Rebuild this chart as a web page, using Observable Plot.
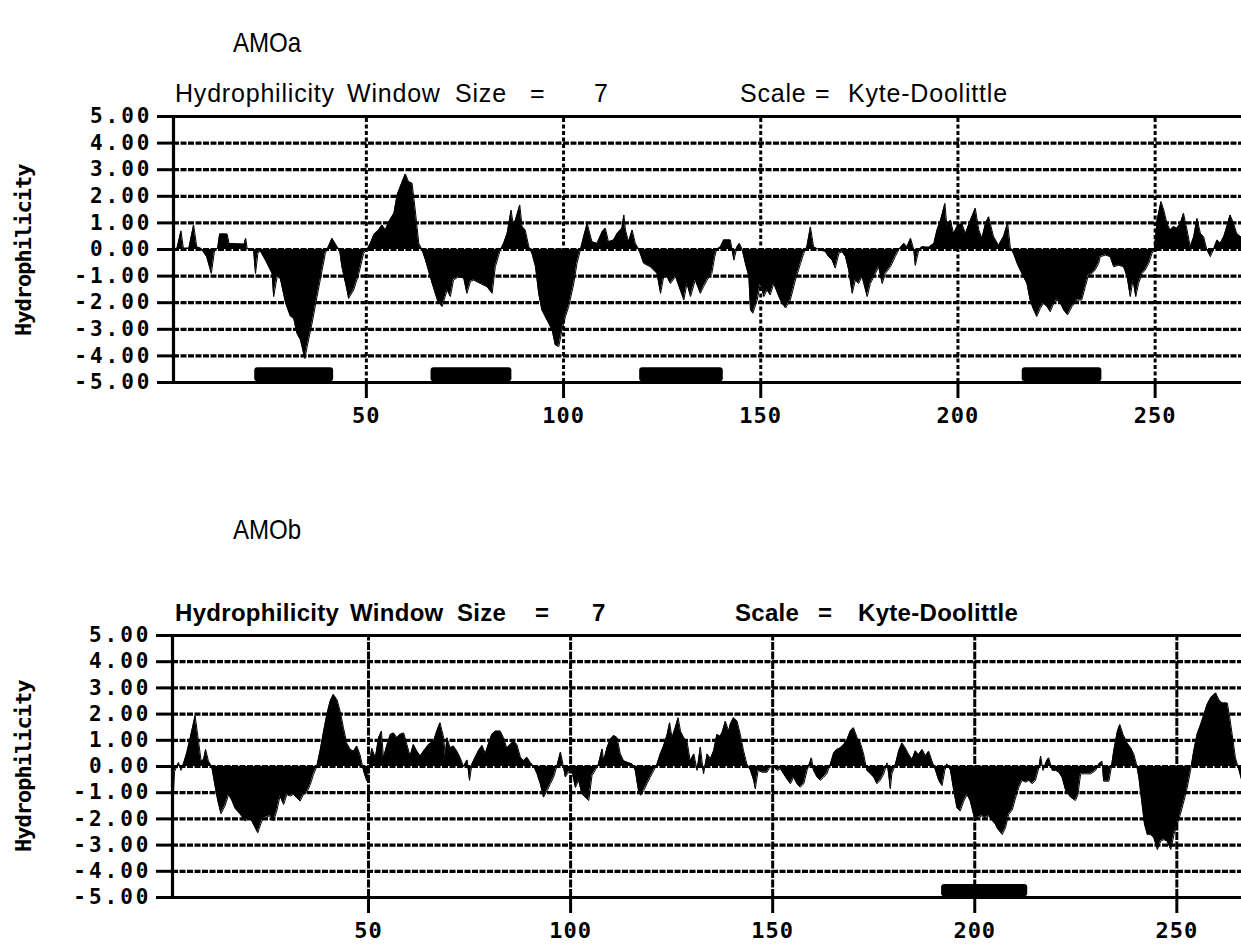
<!DOCTYPE html>
<html><head><meta charset="utf-8">
<script src="https://cdn.jsdelivr.net/npm/d3@7"></script>
<script src="https://cdn.jsdelivr.net/npm/@observablehq/plot@0.6"></script>
<style>
body{margin:0;background:#fff;width:1241px;height:945px;position:relative;overflow:hidden;font-family:"Liberation Sans",Arial,sans-serif;}
.abs{position:absolute;white-space:pre;color:#000;line-height:1;z-index:5;}
.title{font-size:28px;transform:scaleX(0.86);transform-origin:0 0;}
.hdr{font-size:25px;letter-spacing:0.8px;}
.hdrb{font-size:24px;font-weight:bold;letter-spacing:0.3px;}
.ylab{font-family:"DejaVu Sans Mono",monospace;font-weight:bold;font-size:22px;letter-spacing:-1px;transform:rotate(-90deg);transform-origin:0 0;}
#pa,#pb{position:absolute;left:0;z-index:1;}
#pa{top:60px;} #pb{top:580px;}
g[aria-label="y-axis tick label"] text{letter-spacing:3px;}
g[aria-label="x-axis tick label"] text{letter-spacing:1px;}
</style></head><body>
<div class="abs title" style="left:233px;top:29px;">AMOa</div>
<div class="abs hdr" style="left:175px;top:81px;">Hydrophilicity</div>
<div class="abs hdr" style="left:347px;top:81px;">Window</div>
<div class="abs hdr" style="left:455px;top:81px;">Size</div>
<div class="abs hdr" style="left:530px;top:81px;">=</div>
<div class="abs hdr" style="left:594px;top:81px;">7</div>
<div class="abs hdr" style="left:740px;top:81px;">Scale</div>
<div class="abs hdr" style="left:815px;top:81px;">=</div>
<div class="abs hdr" style="left:848px;top:81px;">Kyte-Doolittle</div>
<div class="abs ylab" style="left:13px;top:336px;">Hydrophilicity</div>
<div id="pa"></div>
<div class="abs title" style="left:233px;top:516px;">AMOb</div>
<div class="abs hdrb" style="left:175px;top:601px;">Hydrophilicity</div>
<div class="abs hdrb" style="left:350px;top:601px;">Window</div>
<div class="abs hdrb" style="left:457px;top:601px;">Size</div>
<div class="abs hdrb" style="left:535px;top:601px;">=</div>
<div class="abs hdrb" style="left:592px;top:601px;">7</div>
<div class="abs hdrb" style="left:735px;top:601px;">Scale</div>
<div class="abs hdrb" style="left:818px;top:601px;">=</div>
<div class="abs hdrb" style="left:858px;top:601px;">Kyte-Doolittle</div>
<div class="abs ylab" style="left:13px;top:852px;">Hydrophilicity</div>
<div id="pb"></div>
<script>
// ---- data ----
const xTicks = [50, 100, 150, 200, 250];
const yTicks = [-5, -4, -3, -2, -1, 0, 1, 2, 3, 4, 5];

const posA = [1,2,3,3.6,5,6.2,7,8,9.5,10.7,11.5,12.3,12.8,14.7,15.2,19,19.4,19.8,21.4,21.9,22.5,23.1,24.4,26.1,26.5,27.4,28.2,29.5,30.7,31.6,32.4,33.3,34.4,35,36.2,37.5,38.8,39.6,41.3,42.6,43.2,43.8,45.1,45.5,46.8,48.1,49.3,50.2,51,51.9,53.1,54,54.8,55.7,57,57.8,59.1,59.9,60.7,61.6,62.4,63.3,64.1,65,66.7,68,69.2,70.5,71.3,72.1,73.4,74.7,75.5,76.4,77.2,78.9,80.6,81.9,82.7,84,84.8,85.7,86.7,87.2,87.8,88.9,89.5,90.3,91.2,92,92.9,93.7,94.5,95.8,97.1,97.9,98.8,99.6,100.5,101.3,102.6,103.4,104.3,105.1,106,107.2,108.5,109.8,110.6,111.4,112.7,113.6,114.8,115.3,115.7,116.5,117.4,118.2,119.1,120.3,122,123.7,124.6,125.4,126.2,127.1,128.4,129.6,130.5,131.3,132.2,133.4,134.7,135.5,136.4,137.6,138.3,138.8,139.8,140.6,142.3,143.2,144,144.6,145.3,146.1,147,147.4,148,149.1,149.9,150.8,151.6,152.4,153.3,154.6,155.4,156.3,157.5,158.8,160.1,160.9,161.7,162.6,163.4,164.7,166.4,167.2,168.1,168.9,169.8,170.6,171.5,172.3,173.2,174,174.8,175.7,177,177.8,179.1,179.9,180.8,181.6,182.9,184.1,185,186.3,187.1,188,188.8,189.2,190.1,190.9,192.6,193.9,194.7,195.6,196.7,197.2,198.1,198.9,199.8,201,201.9,202.7,204.4,205.3,206.1,207,207.8,208.2,209,210.3,211.6,212.6,213.3,214.1,215,216.2,217.5,218.3,219.2,220,220.9,221.7,222.6,223.4,224.3,225.1,226,226.8,227.8,228.9,230.2,231.4,232.3,233.1,234,234.8,235.7,236.1,237.4,238.6,239.5,240.7,242,242.9,243.7,244.4,245.1,245.8,246.7,247.5,248.4,249.2,249.8,250.5,251.5,252.2,253,253.8,254.7,255.5,256.4,257.2,258.1,258.9,259.8,260.6,261.5,262.3,263.1,264,264.8,265.7,266.5,267.4,268.2,269,269.9,270.7,271.9];
const hydA = [0,0.05,0.7,0.05,0.05,0.92,0.1,0.05,-0.27,-0.9,-0.05,0.05,0.58,0.58,0.23,0.2,0.42,0.02,0,-0.9,-0.15,-0.05,-0.4,-0.9,-1.77,-1,-1.1,-2,-2.5,-2.6,-3.15,-3.4,-4.1,-3.65,-2.8,-1.77,-0.77,-0.15,0.42,0.1,0,-0.65,-1.52,-1.84,-1.52,-0.9,-0.15,0,0.23,0.55,0.73,0.92,0.73,1.04,1.36,2.05,2.55,2.84,2.55,2.49,1.48,0.23,0,-0.4,-1.28,-1.9,-2.15,-1.52,-1.77,-1.15,-1.02,-1.08,-1.65,-1.2,-1.15,-1.28,-1.4,-1.65,-0.65,0,0.23,0.6,1.48,0.98,1.1,1.67,0.86,0.73,0.1,-0.15,-0.65,-1.65,-2.27,-2.65,-3.03,-3.59,-3.65,-3.03,-2.52,-2.15,-1.28,-0.52,0,0.48,0.98,0.29,0.23,0.67,0.8,0.29,0.36,0.6,0.8,1.3,0.73,0.29,0.73,0.23,0,-0.52,-0.65,-0.9,-1.65,-1.02,-1.02,-1.28,-1.02,-1.52,-1.9,-1.28,-1.77,-1.15,-1.65,-1.4,-1.15,-0.9,-0.3,0,0.1,0.36,0.36,-0.4,0.1,0.23,0,-0.52,-1.02,-2.27,-2.4,-1.9,-1.28,-1.77,-1.52,-1.71,-1.28,-1.77,-2.02,-2.2,-1.9,-1.15,-0.52,-0.15,0.1,0.85,0.1,0,-0.08,-0.27,-0.4,-0.7,-0.15,-0.08,-0.27,-0.77,-1.65,-1.15,-1.28,-1.02,-1.77,-1.28,-0.9,-0.65,-1.28,-0.9,-0.65,-0.27,0,0.23,0.1,0.42,0,-0.6,0,0.1,0.08,0.23,0.73,1.1,1.73,0.86,1.1,0.6,0.86,0.98,0.6,0.92,1.55,0.73,0.42,0.98,1.23,0.98,0.5,0.15,0.5,1,0.05,-0.15,-0.52,-0.9,-1.28,-1.9,-2.27,-2.52,-2.21,-2.02,-2.15,-2.34,-2.02,-1.9,-2.02,-2.27,-2.46,-2.15,-1.9,-1.9,-1.4,-0.96,-0.9,-0.77,-0.52,-0.27,-0.21,-0.27,-0.65,-0.59,-0.65,-1.02,-1.77,-1.15,-1.77,-1.28,-0.9,-0.77,-0.52,-0.15,0,1.1,1.8,1.48,0.98,0.73,0.86,0.8,0.98,1.36,0.73,0.1,0.48,1.17,0.6,0.48,0,-0.27,0,0.36,0.23,0.48,0.86,1.3,0.98,0.6,0.45];
const tmStartA = [21.7, 66.4, 119.3, 216.3];
const tmEndA = [41.7, 86.9, 140.5, 236.5];

const posB = [1.5,2,3,3.6,4.2,5,5.9,7.1,7.9,8.6,9.2,9.7,10.4,11.2,12.1,12.7,13.5,14.5,15.4,16.2,17,18.2,19.5,20.7,21.5,22.6,23.6,24.4,25.7,26.5,27.3,28.1,29,29.8,30.6,31.4,32.3,33.1,33.9,34.7,35.6,36.4,37.2,38,38.9,39.7,40.5,41.3,42.2,43,43.8,44.6,45.5,46.3,47.1,47.9,48.8,49.6,50.2,50.8,51.7,52.5,53.2,53.7,54.6,55.4,56.2,57,57.8,58.7,59.5,60.3,61.1,62,62.8,63.6,64.9,66.1,66.9,67.7,68.6,69,69.4,70.2,71,71.9,72.7,73.5,74.4,75,75.6,76.4,77.2,78.1,78.9,79.7,80.5,81.4,82.6,83.4,84.2,85.1,85.9,86.7,87.6,88.4,89.2,90,90.9,91.7,92.5,93.3,94.2,95,95.8,96.6,97.5,98.1,98.7,99.5,100.3,101.2,102,102.8,103.6,104.5,105.3,106.1,106.9,107.8,108.2,109,109.8,110.7,111.5,112.3,113.1,114,115.2,116,116.8,117.3,118.1,118.9,119.7,120.6,121.4,122.2,123,123.9,124.5,125.1,125.9,126.6,127.2,128,128.8,129.6,130.5,131.3,132.1,132.9,133.8,134.6,135.4,136.2,137,137.5,138.3,139.1,139.5,140.3,141.2,142,142.8,143.6,144.5,145.3,145.7,146.4,147.4,148.6,149.4,150.2,151.1,151.9,152.7,153.5,154.4,155.2,156,156.8,157.7,158.5,159.6,160.1,161,161.8,162.6,163.4,164.3,165.1,165.9,166.7,167.6,168.4,169.2,170,170.9,171.7,172.5,173.3,174.2,175,175.8,176.6,177.5,178.3,178.7,179.1,179.5,180.4,181.2,182,182.8,183.7,184.5,185.3,186.1,187,187.8,188.6,189.4,190.3,191.1,191.9,192.6,193.1,194,194.8,195.6,196.4,197.3,198.1,198.9,199.7,200.6,201.8,202.6,203.5,204.3,205.1,205.5,206.8,207.6,208.4,209.3,210.1,210.9,211.7,212.6,213.4,214.2,215,215.9,216.3,216.9,217.8,218.3,219.2,220,220.8,221.6,222.5,223.7,224.9,225.5,226.2,227.4,228.7,229.9,230.7,231.5,231.9,233.2,233.8,234.4,235.3,235.9,236.7,237.7,238.6,239.4,240,240.6,241.4,242,242.7,243.5,244.3,245.2,246,246.8,247.6,248.5,249.3,250.1,250.9,251.8,252.6,253.4,254.2,255,255.9,256.7,257.5,258.4,259.6,260.4,261.2,262.5,263.1,263.7,264.5,265.4,266];
const hydB = [-1.8,-0.2,0.15,-0.15,0.1,0.5,1.1,1.94,1,0.2,0.27,0.65,0.2,0,-0.8,-1.3,-1.8,-1.5,-1.07,-1.3,-1.6,-1.81,-2.08,-1.95,-2.2,-2.53,-2.08,-1.95,-1.88,-2.08,-1.7,-1.13,-1.45,-1.07,-1.13,-1.07,-1.2,-1.32,-1.07,-1,-0.69,-0.3,0,0.58,1.35,1.98,2.49,2.75,2.55,2.1,1.48,0.9,0.65,0.58,0.78,0.45,-0.18,-0.56,0,0.7,0.33,1.1,1.35,0.33,0.84,1.22,1.28,1.1,1.22,1.28,0.84,0.4,0.84,0.58,0.4,0.58,0.84,0.97,1.35,1.67,1.1,0.4,1.1,0.71,0.78,0.58,0.33,0,0.25,-0.53,0.1,0.35,0.6,0.8,0.5,0.87,1.22,1.35,1.35,1.1,0.71,0.84,0.97,0.84,0.35,0.22,0.35,0.16,0,-0.28,-0.66,-1.17,-0.92,-0.66,-0.41,0,0.55,0.1,-0.4,-0.22,-0.15,-0.8,-0.53,-1.05,-1.17,-1.3,-0.34,-0.15,0.1,0.67,0.22,0.71,1.03,1.18,1.1,0.48,0.22,0.16,0.1,-0.15,-0.92,-1.1,-0.92,-0.66,-0.41,-0.15,0.1,0.48,0.78,1.22,1.67,1.1,1.48,1.86,1.35,1.1,0.97,0.22,0.48,-0.15,0.74,-0.28,0.48,0.29,0.6,1.22,1.15,1.3,1.73,1.35,1.6,1.86,1.73,1.22,0.6,0.1,-0.15,-0.53,-0.85,-0.15,-0.22,-0.22,0,0,-0.15,-0.09,-0.28,-0.47,-0.66,-0.41,-0.66,-0.79,-0.66,-0.15,0.33,-0.15,-0.41,-0.53,-0.41,-0.28,0.1,0.52,0.65,0.71,0.84,1.03,1.35,1.48,1.1,0.9,0.48,-0.15,-0.28,-0.41,-0.66,-0.53,-0.28,0.14,-0.28,-0.85,-0.28,0.1,0.6,0.9,0.71,0.45,0.27,0.6,0.45,0.65,0.4,0.58,0.22,-0.15,-0.53,-0.73,-0.15,0.1,-0.15,-0.92,-1.58,-1.7,-1.32,-1.07,-1.32,-1.83,-1.96,-1.88,-1.96,-1.88,-2.06,-2.2,-2.34,-2.6,-2.34,-1.83,-1.65,-1.2,-0.8,-0.53,-0.6,-0.53,-0.66,-0.53,-0.03,0.4,-0.15,0.22,0.33,-0.15,-0.15,-0.22,-0.41,-0.92,-1.17,-1.3,-1.1,-0.28,-0.28,-0.28,-0.15,0.1,0.2,-0.56,-0.56,-0.03,0.6,1.35,1.6,1.22,0.9,0.71,0.45,0.1,-0.41,-1.43,-2.2,-2.6,-2.6,-2.72,-3.17,-2.85,-2.79,-2.85,-3.17,-2.6,-2.2,-1.81,-1.3,-0.79,-0.15,0.6,1.22,1.6,1.98,2.37,2.62,2.81,2.55,2.42,2.42,1.86,1.22,0.33,-0.15,-0.5];
const tmStartB = [191.8];
const tmEndB = [213.1];

// ---- drawing ----
function panel(pos, hyd, tmS, tmE, cfg) {
  const data = pos.map((p, i) => ({r: p, v: hyd[i]}));
  const segs = tmS.map((s, i) => ({s: s, e: tmE[i]}));
  const grid = yTicks.filter(d => d !== -5 && d !== 5);
  return Plot.plot({
    width: 1241, height: cfg.height,
    marginLeft: cfg.marginLeft, marginRight: 0,
    marginTop: cfg.marginTop, marginBottom: cfg.marginBottom,
    x: {domain: cfg.xDomain},
    y: {domain: [-5, 5]},
    style: {fontFamily: "'DejaVu Sans Mono', monospace", fontWeight: "bold", fontSize: "21px", color: "#000", background: "transparent", overflow: "visible"},
    marks: [
      Plot.ruleY(grid, {stroke: "#000", strokeWidth: 3.2, strokeDasharray: "6,1.5"}),
      Plot.ruleX(xTicks, {y1: -5, y2: 5, stroke: "#000", strokeWidth: 3, strokeDasharray: cfg.vDash}),
      Plot.areaY(data, {x: "r", y: "v", fill: "#000", curve: "linear"}),
      Plot.line(data, {x: "r", y: "v", stroke: "#000", strokeWidth: 1}),
      Plot.rect(segs, {x1: "s", x2: "e", y1: cfg.barY[0], y2: cfg.barY[1], fill: "#000", rx: 3}),
      Plot.ruleY([-5, 5], {stroke: "#000", strokeWidth: 3.2}),
      Plot.ruleX([cfg.xDomain[0]], {y1: -5, y2: 5, stroke: "#000", strokeWidth: 3.2}),
      Plot.axisY({ticks: yTicks, tickFormat: d => d.toFixed(2), tickSize: 16, tickPadding: 5, strokeWidth: 3, label: null, fontSize: 21}),
      Plot.axisX({ticks: xTicks, tickFormat: d => String(d), tickSize: 16, tickPadding: 9, strokeWidth: 3, label: null, fontSize: 22})
    ]
  });
}

document.getElementById("pa").appendChild(panel(posA, hydA, tmStartA, tmEndA, {
  height: 380, marginLeft: 173, marginTop: 56, marginBottom: 58,
  xDomain: [1.1, 271.9], vDash: "4,2.5", barY: [-4.45, -4.97]
}));
document.getElementById("pb").appendChild(panel(posB, hydB, tmStartB, tmEndB, {
  height: 365, marginLeft: 172, marginTop: 55, marginBottom: 48,
  xDomain: [1.5, 266], vDash: "8,1.5", barY: [-4.5, -4.97]
}));
</script>
</body></html>
